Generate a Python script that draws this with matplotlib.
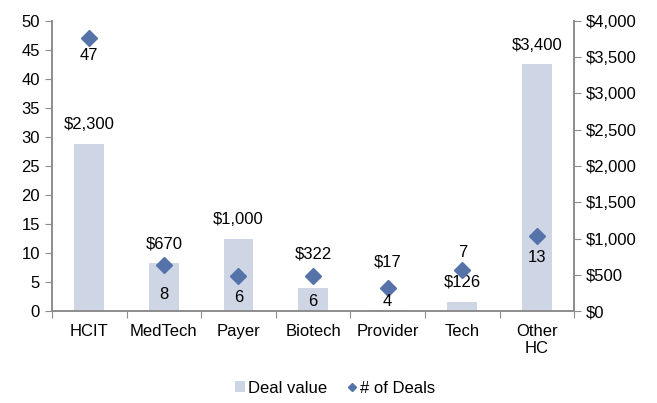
import matplotlib.pyplot as plt
import numpy as np

plt.rcParams['font.family'] = ['Liberation Sans', 'DejaVu Sans']

categories = ['HCIT', 'MedTech', 'Payer', 'Biotech', 'Provider', 'Tech', 'Other\nHC']
deal_value = [2300, 670, 1000, 322, 17, 126, 3400]
num_deals = [47, 8, 6, 6, 4, 7, 13]
value_labels = ['$2,300', '$670', '$1,000', '$322', '$17', '$126', '$3,400']

# label offsets in pixels (centre of text relative to the mark), like the Excel layout
value_label_dy = [20, 19, 19, 34, 48, 20, 19]
deal_label_dy = [-17, -30, -21, -25, -14, 18, -22]

bar_color = '#CED6E6'
dot_color = '#5572A9'
axis_color = '#8C8C8C'
fs = 12

fig = plt.figure(figsize=(6.57, 4.03), dpi=100)
ax = fig.add_axes([0.079, 0.228, 0.795, 0.72])
ax2 = ax.twinx()

x = np.arange(len(categories))

ax2.bar(x, deal_value, width=0.4, color=bar_color, label='Deal value')
ax2.set_ylim(0, 4000)
ax2.set_yticks(np.arange(0, 4001, 500))
ax2.set_yticklabels(['${:,}'.format(v) for v in range(0, 4001, 500)])
for xi, v, lab, dy in zip(x, deal_value, value_labels, value_label_dy):
    ax2.annotate(lab, (xi, v), xytext=(0, dy), textcoords='offset pixels',
                 ha='center', va='center', fontsize=fs)

ax.plot(x, num_deals, linestyle='none', marker='D', markersize=8,
        color=dot_color, label='# of Deals')
ax.set_ylim(0, 50)
ax.set_yticks(range(0, 51, 5))
for xi, n, dy in zip(x, num_deals, deal_label_dy):
    ax.annotate(str(n), (xi, n), xytext=(0, dy), textcoords='offset pixels',
                ha='center', va='center', fontsize=fs)

ax.set_zorder(ax2.get_zorder() + 1)
ax.patch.set_visible(False)

ax.set_xlim(-0.5, len(categories) - 0.5)
ax.set_xticks(np.arange(-0.5, len(categories), 1.0))
ax.set_xticklabels([])
ax.set_xticks(x, minor=True)
ax.set_xticklabels(categories, minor=True, fontsize=fs)
ax.tick_params(axis='x', which='minor', length=0, pad=9)
ax.tick_params(axis='x', which='major', length=5, color=axis_color, direction='out')

for a in (ax, ax2):
    a.spines['top'].set_visible(False)
    for s in ('left', 'right', 'bottom'):
        a.spines[s].set_color(axis_color)
        a.spines[s].set_linewidth(1.2)
ax.tick_params(axis='y', labelsize=fs, color=axis_color, length=5)
ax2.tick_params(axis='y', labelsize=fs, color=axis_color, length=5)

h1, l1 = ax2.get_legend_handles_labels()
h2, l2 = ax.get_legend_handles_labels()
leg = fig.legend(h1 + h2, l1 + l2, loc='center', bbox_to_anchor=(0.51, 0.037),
                 ncol=2, frameon=False, fontsize=fs, handlelength=0.6,
                 handleheight=0.6, handletextpad=0.15, columnspacing=1.2,
                 markerscale=0.5)

fig.savefig('out.png', dpi=100)
